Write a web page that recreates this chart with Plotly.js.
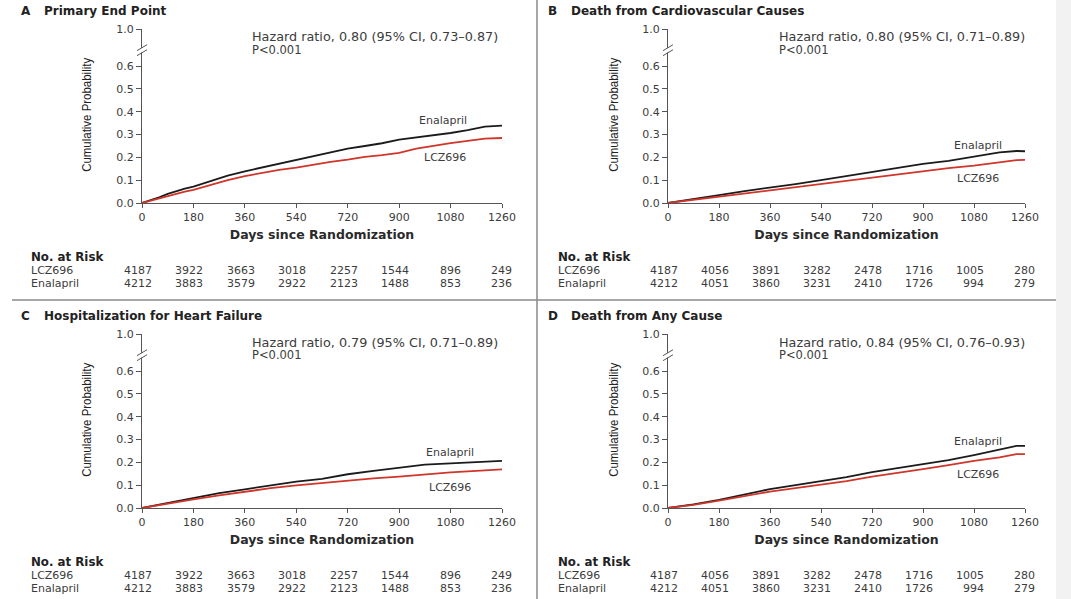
<!DOCTYPE html>
<html>
<head>
<meta charset="utf-8">
<script src="https://cdn.plot.ly/plotly-3.0.1.min.js"></script>
<style>html,body{margin:0;padding:0;background:#fff;}#chart{width:1071px;height:599px;}</style>
</head>
<body>
<div id="chart"></div>
<script>
// ---------- data ----------
const panelLetters = ["A", "B", "C", "D"];
const panelTitles = ["Primary End Point", "Death from Cardiovascular Causes", "Hospitalization for Heart Failure", "Death from Any Cause"];
const hazardTexts = [
  "Hazard ratio, 0.80 (95% CI, 0.73\u20130.87)",
  "Hazard ratio, 0.80 (95% CI, 0.71\u20130.89)",
  "Hazard ratio, 0.79 (95% CI, 0.71\u20130.89)",
  "Hazard ratio, 0.84 (95% CI, 0.76\u20130.93)"
];
const pTexts = ["P<0.001", "P<0.001", "P<0.001", "P<0.001"];

const xTicks = [0, 180, 360, 540, 720, 900, 1080, 1260];
const yTickVals = [0, 0.1, 0.2, 0.3, 0.4, 0.5, 0.6, 0.763];
const yTickText = ["0.0", "0.1", "0.2", "0.3", "0.4", "0.5", "0.6", "1.0"];

const daysA = [0,30,60,90,120,150,180,240,300,360,420,480,540,600,660,720,780,840,900,960,1020,1080,1140,1200,1260];
const enalaprilA = [0,0.012,0.025,0.04,0.052,0.063,0.072,0.095,0.12,0.139,0.155,0.172,0.19,0.205,0.222,0.238,0.25,0.262,0.278,0.287,0.295,0.307,0.32,0.335,0.339];
const lczA = [0,0.01,0.02,0.032,0.042,0.05,0.058,0.08,0.1,0.118,0.132,0.145,0.155,0.168,0.18,0.19,0.202,0.21,0.22,0.238,0.252,0.263,0.272,0.282,0.285];

const daysBCD = [0,90,180,270,360,450,540,630,720,810,900,990,1080,1170,1230,1260];
const enalaprilB = [0,0.016,0.035,0.052,0.066,0.083,0.100,0.118,0.138,0.155,0.172,0.185,0.203,0.222,0.228,0.227];
const lczB = [0,0.014,0.030,0.043,0.055,0.070,0.084,0.099,0.113,0.128,0.142,0.153,0.164,0.178,0.188,0.189];
const enalaprilC = [0,0.022,0.043,0.065,0.082,0.100,0.116,0.128,0.148,0.163,0.178,0.190,0.196,0.203,0.207,0.207];
const lczC = [0,0.020,0.038,0.055,0.072,0.087,0.099,0.110,0.120,0.130,0.138,0.148,0.156,0.163,0.169,0.169];
const enalaprilD = [0,0.016,0.036,0.060,0.083,0.100,0.116,0.135,0.157,0.175,0.193,0.210,0.232,0.255,0.272,0.272];
const lczD = [0,0.014,0.032,0.052,0.072,0.087,0.101,0.118,0.138,0.153,0.170,0.188,0.207,0.222,0.236,0.236];

const riskLczAC = [4187, 3922, 3663, 3018, 2257, 1544, 896, 249];
const riskEnaAC = [4212, 3883, 3579, 2922, 2123, 1488, 853, 236];
const riskLczBD = [4187, 4056, 3891, 3282, 2478, 1716, 1005, 280];
const riskEnaBD = [4212, 4051, 3860, 3231, 2410, 1726, 994, 279];

// curve label positions (data coords): [enalapril x,y, lcz x,y]
const labelPos = [
  [1054, 0.362, 1060, 0.200],
  [1094, 0.250, 1094, 0.106],
  [1078, 0.243, 1078, 0.092],
  [1094, 0.292, 1094, 0.146]
];

// ---------- layout helpers ----------
const W = 1071, H = 599;
const px = v => v / W;
const py = v => 1 - v / H;

const panels = [
  {days: daysA, ena: enalaprilA, lcz: lczA, riskL: riskLczAC, riskE: riskEnaAC, x0: 142, x1: 502, yb: 203, yt: 29, off: 0, offY: 0},
  {days: daysBCD, ena: enalaprilB, lcz: lczB, riskL: riskLczBD, riskE: riskEnaBD, x0: 668, x1: 1025, yb: 203, yt: 29, off: 527, offY: 0},
  {days: daysBCD, ena: enalaprilC, lcz: lczC, riskL: riskLczAC, riskE: riskEnaAC, x0: 142, x1: 502, yb: 508, yt: 334, off: 0, offY: 305},
  {days: daysBCD, ena: enalaprilD, lcz: lczD, riskL: riskLczBD, riskE: riskEnaBD, x0: 668, x1: 1025, yb: 508, yt: 334, off: 527, offY: 305}
];

const FONT = "DejaVu Sans, Verdana, sans-serif";
const TXT = "#3c3c3c";
const BLACK = "#1b1b1b";
const RED = "#d0352a";

const data = [];
const layout = {
  width: W, height: H,
  margin: {l: 0, r: 0, t: 0, b: 0},
  paper_bgcolor: "#ffffff",
  plot_bgcolor: "rgba(0,0,0,0)",
  showlegend: false,
  font: {family: FONT, size: 11, color: TXT},
  annotations: [],
  shapes: []
};

function note(o) {
  layout.annotations.push(Object.assign({showarrow: false, xanchor: "left", yanchor: "middle", xref: "paper", yref: "paper"}, o));
}

panels.forEach((p, i) => {
  const n = i + 1;
  const xa = n === 1 ? "x" : "x" + n;
  const ya = n === 1 ? "y" : "y" + n;
  const xk = n === 1 ? "xaxis" : "xaxis" + n;
  const yk = n === 1 ? "yaxis" : "yaxis" + n;

  data.push({x: p.days, y: p.ena, xaxis: xa, yaxis: ya, mode: "lines", line: {color: BLACK, width: 1.8}, hoverinfo: "skip"});
  data.push({x: p.days, y: p.lcz, xaxis: xa, yaxis: ya, mode: "lines", line: {color: RED, width: 1.8}, hoverinfo: "skip"});

  layout[xk] = {
    domain: [px(p.x0), px(p.x1)], anchor: ya, range: [0, 1260],
    tickvals: xTicks, ticktext: xTicks.map(String),
    ticks: "outside", ticklen: 4, tickwidth: 1, tickcolor: "#555",
    showline: true, linecolor: "#555", linewidth: 1,
    showgrid: false, zeroline: false, fixedrange: true,
    tickfont: {family: FONT, size: 11, color: TXT},
    title: {text: "<b>Days since Randomization</b>", font: {family: FONT, size: 12.5, color: "#2a2a2a"}, standoff: 7}
  };
  layout[yk] = {
    domain: [py(p.yb), py(p.yt)], anchor: xa, range: [0, 0.763],
    tickvals: yTickVals, ticktext: yTickText,
    ticks: "outside", ticklen: 5, tickwidth: 1, tickcolor: "#555",
    showline: true, linecolor: "#555", linewidth: 1,
    showgrid: false, zeroline: false, fixedrange: true,
    tickfont: {family: FONT, size: 11, color: TXT}
  };

  // axis break
  layout.shapes.push({type: "rect", xref: xa + " domain", yref: ya, x0: -0.006, x1: 0.006, y0: 0.660, y1: 0.680, fillcolor: "#ffffff", line: {width: 0}});
  layout.shapes.push({type: "line", xref: xa + " domain", yref: ya, x0: -0.014, x1: 0.014, y0: 0.646, y1: 0.672, line: {color: "#555", width: 1}});
  layout.shapes.push({type: "line", xref: xa + " domain", yref: ya, x0: -0.014, x1: 0.014, y0: 0.668, y1: 0.694, line: {color: "#555", width: 1}});

  // y title
  note({x: px(86 + p.off), y: py(115 + p.offY), xanchor: "center", yanchor: "middle", text: "Cumulative Probability", textangle: -90,
    font: {family: "Liberation Sans Narrow, Arial Narrow, Liberation Sans, sans-serif", size: 13.5, color: "#222"}});

  // panel title
  note({x: px(19 + p.off), y: py(11 + p.offY), text: "<b>" + panelLetters[i] + "</b>", font: {family: FONT, size: 12, color: "#222"}});
  note({x: px(42 + p.off), y: py(11 + p.offY), text: "<b>" + panelTitles[i] + "</b>", font: {family: FONT, size: 12, color: "#222"}});

  // hazard text
  note({x: px(250 + p.off), y: py(37 + p.offY), text: hazardTexts[i], font: {family: FONT, size: 12.8, color: TXT}});
  note({x: px(250 + p.off), y: py(50 + p.offY), text: pTexts[i].replace("<", "&lt;"), font: {family: FONT, size: 11.5, color: TXT}});

  // curve labels
  const lp = labelPos[i];
  note({xref: xa, yref: ya, x: lp[0], y: lp[1], xanchor: "center", text: "Enalapril", font: {family: FONT, size: 11, color: TXT}});
  note({xref: xa, yref: ya, x: lp[2], y: lp[3], xanchor: "center", text: "LCZ696", font: {family: FONT, size: 11, color: TXT}});

  // number at risk
  note({x: px(29 + p.off), y: py(257 + p.offY), text: "<b>No. at Risk</b>", font: {family: FONT, size: 11.8, color: "#222"}});
  note({x: px(29 + p.off), y: py(270 + p.offY), text: "LCZ696", font: {family: FONT, size: 11, color: TXT}});
  note({x: px(29 + p.off), y: py(283 + p.offY), text: "Enalapril", font: {family: FONT, size: 11, color: TXT}});
  xTicks.forEach((d, k) => {
    note({xref: xa, x: d, xshift: 12, y: py(270 + p.offY), xanchor: "right", text: String(p.riskL[k]), font: {family: FONT, size: 11, color: TXT}});
    note({xref: xa, x: d, xshift: 12, y: py(283 + p.offY), xanchor: "right", text: String(p.riskE[k]), font: {family: FONT, size: 11, color: TXT}});
  });
});

// panel dividers
layout.shapes.push({type: "line", xref: "paper", yref: "paper", x0: px(537), x1: px(537), y0: 0, y1: 1, line: {color: "#8a8a8a", width: 1.5}});
layout.shapes.push({type: "line", xref: "paper", yref: "paper", x0: px(12), x1: px(1056), y0: py(300), y1: py(300), line: {color: "#8a8a8a", width: 1.5}});
layout.shapes.push({type: "rect", xref: "paper", yref: "paper", x0: px(1056), x1: 1, y0: 0, y1: 1, fillcolor: "#f2f2f2", line: {width: 0}, layer: "below"});

Plotly.newPlot("chart", data, layout, {staticPlot: true, displayModeBar: false}).then(() => {
  // condense the rotated y titles to the narrow width of the original
  document.querySelectorAll("#chart .annotation-text").forEach(t => {
    if (t.textContent === "Cumulative Probability") {
      t.setAttribute("textLength", "114");
      t.setAttribute("lengthAdjust", "spacingAndGlyphs");
    }
  });
});
</script>
</body>
</html>
